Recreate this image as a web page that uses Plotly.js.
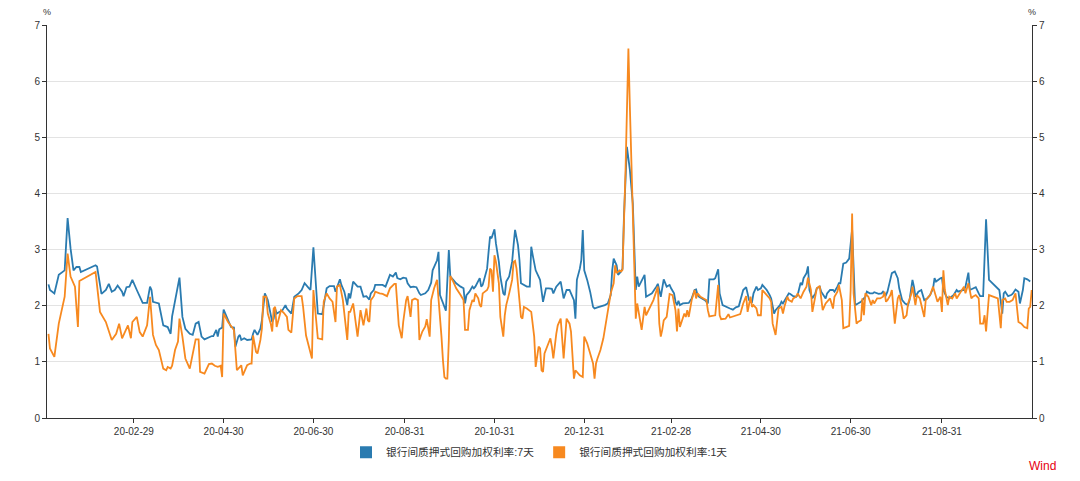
<!DOCTYPE html>
<html><head><meta charset="utf-8">
<script src="https://cdn.plot.ly/plotly-3.0.1.min.js"></script>
<style>html,body{margin:0;padding:0;background:#fff}#chart{width:1080px;height:481px}</style>
</head><body><div id="chart"></div>
<script>
const seriesNames = ['银行间质押式回购加权利率:7天', '银行间质押式回购加权利率:1天'];
const seriesColors = ['#2a7bb0', '#f7891f'];

const dates7d = [
'2020-01-02','2020-01-03','2020-01-06','2020-01-09','2020-01-13','2020-01-15','2020-01-17','2020-01-19','2020-01-21','2020-01-23','2020-01-24',
'2020-02-03','2020-02-04','2020-02-06','2020-02-07','2020-02-10','2020-02-12','2020-02-14','2020-02-16','2020-02-18','2020-02-21','2020-02-22','2020-02-24','2020-02-26','2020-02-28',
'2020-03-02','2020-03-06','2020-03-09','2020-03-11','2020-03-12','2020-03-13','2020-03-17','2020-03-20','2020-03-23','2020-03-25','2020-03-26','2020-03-28','2020-03-31',
'2020-04-02','2020-04-04','2020-04-07','2020-04-09','2020-04-11','2020-04-13','2020-04-15','2020-04-17','2020-04-22','2020-04-23','2020-04-25','2020-04-26','2020-04-27','2020-04-29','2020-04-30',
'2020-05-05','2020-05-07','2020-05-08','2020-05-10','2020-05-11','2020-05-12','2020-05-14','2020-05-16','2020-05-18','2020-05-19','2020-05-20','2020-05-21','2020-05-23','2020-05-25','2020-05-26','2020-05-28','2020-05-30','2020-05-31',
'2020-06-02','2020-06-03','2020-06-04','2020-06-05','2020-06-07','2020-06-09','2020-06-11','2020-06-12','2020-06-14','2020-06-15','2020-06-17','2020-06-20','2020-06-22','2020-06-24','2020-06-27','2020-06-28','2020-06-30',
'2020-07-03','2020-07-06','2020-07-08','2020-07-09','2020-07-11','2020-07-14','2020-07-15','2020-07-18','2020-07-19','2020-07-21','2020-07-23','2020-07-24','2020-07-25','2020-07-27','2020-07-29','2020-07-30',
'2020-08-01','2020-08-02','2020-08-03','2020-08-05','2020-08-07','2020-08-08','2020-08-10','2020-08-11','2020-08-14','2020-08-16','2020-08-18','2020-08-21','2020-08-23','2020-08-25','2020-08-26','2020-08-28','2020-08-30',
'2020-09-01','2020-09-02','2020-09-04','2020-09-06','2020-09-08','2020-09-10','2020-09-11','2020-09-14','2020-09-16','2020-09-18','2020-09-19','2020-09-22','2020-09-23','2020-09-24','2020-09-27','2020-09-28','2020-09-30',
'2020-10-01','2020-10-03','2020-10-05','2020-10-08','2020-10-10','2020-10-11','2020-10-12','2020-10-14','2020-10-16','2020-10-17','2020-10-18','2020-10-21','2020-10-22','2020-10-23','2020-10-26','2020-10-27','2020-10-28','2020-10-29','2020-10-31',
'2020-11-01','2020-11-03','2020-11-04','2020-11-06','2020-11-07','2020-11-08','2020-11-10','2020-11-12','2020-11-13','2020-11-14','2020-11-16','2020-11-17','2020-11-18','2020-11-20','2020-11-22','2020-11-24','2020-11-25','2020-11-26','2020-11-28','2020-11-30',
'2020-12-01','2020-12-03','2020-12-05','2020-12-07','2020-12-09','2020-12-10','2020-12-12','2020-12-15','2020-12-17','2020-12-19','2020-12-21','2020-12-22','2020-12-24','2020-12-25','2020-12-26','2020-12-28','2020-12-29','2020-12-30','2020-12-31',
'2021-01-02','2021-01-04','2021-01-06','2021-01-07','2021-01-09','2021-01-12','2021-01-14','2021-01-16','2021-01-18','2021-01-19','2021-01-20','2021-01-22','2021-01-23','2021-01-25','2021-01-26','2021-01-27','2021-01-29','2021-01-31',
'2021-02-02','2021-02-04','2021-02-05','2021-02-06','2021-02-08','2021-02-10','2021-02-11','2021-02-15','2021-02-18','2021-02-19','2021-02-21','2021-02-23','2021-02-25','2021-02-27','2021-02-28',
'2021-03-02','2021-03-03','2021-03-04','2021-03-05','2021-03-06','2021-03-08','2021-03-12','2021-03-14','2021-03-16','2021-03-17','2021-03-18','2021-03-19','2021-03-21','2021-03-23','2021-03-25','2021-03-26','2021-03-29','2021-03-30',
'2021-04-01','2021-04-02','2021-04-04','2021-04-06','2021-04-09','2021-04-11','2021-04-13','2021-04-15','2021-04-17','2021-04-18','2021-04-20','2021-04-21','2021-04-22','2021-04-24','2021-04-25','2021-04-27','2021-04-28','2021-04-30',
'2021-05-01','2021-05-02','2021-05-04','2021-05-06','2021-05-07','2021-05-09','2021-05-10','2021-05-13','2021-05-14','2021-05-15','2021-05-17','2021-05-19','2021-05-20','2021-05-22','2021-05-24','2021-05-25','2021-05-27','2021-05-28','2021-05-29','2021-05-31',
'2021-06-01','2021-06-02','2021-06-04','2021-06-06','2021-06-07','2021-06-09','2021-06-10','2021-06-13','2021-06-14','2021-06-16','2021-06-18','2021-06-19','2021-06-21','2021-06-22','2021-06-23','2021-06-25','2021-06-27','2021-06-28','2021-06-29',
'2021-07-01','2021-07-02','2021-07-03','2021-07-05','2021-07-07','2021-07-09','2021-07-10','2021-07-11','2021-07-13','2021-07-15','2021-07-16','2021-07-19','2021-07-21','2021-07-22','2021-07-24','2021-07-25','2021-07-27','2021-07-28','2021-07-30',
'2021-08-01','2021-08-02','2021-08-04','2021-08-06','2021-08-08','2021-08-09','2021-08-11','2021-08-12','2021-08-13','2021-08-15','2021-08-17','2021-08-19','2021-08-21','2021-08-23','2021-08-25','2021-08-26','2021-08-27','2021-08-30','2021-08-31',
'2021-09-01','2021-09-03','2021-09-05','2021-09-08','2021-09-10','2021-09-11','2021-09-13','2021-09-15','2021-09-16','2021-09-18','2021-09-19','2021-09-21','2021-09-23','2021-09-25','2021-09-26','2021-09-28','2021-09-29','2021-09-30',
'2021-10-02','2021-10-04','2021-10-06','2021-10-09','2021-10-11','2021-10-12','2021-10-13','2021-10-15','2021-10-17','2021-10-18','2021-10-20','2021-10-22','2021-10-23','2021-10-25','2021-10-26','2021-10-28','2021-10-30'
];
const rate7d = [
2.38,2.28,2.22,2.55,2.63,3.56,3.02,2.63,2.69,2.69,2.60,
2.72,2.70,2.31,2.21,2.28,2.39,2.25,2.28,2.36,2.25,2.17,2.33,2.34,2.46,
2.28,2.05,2.05,2.34,2.28,2.07,2.04,1.65,1.62,1.50,1.81,2.10,2.50,
1.80,1.59,1.50,1.48,1.68,1.71,1.45,1.40,1.46,1.46,1.57,1.45,1.58,1.61,1.93,
1.62,1.61,1.27,1.45,1.48,1.39,1.42,1.39,1.40,1.40,1.50,1.57,1.48,1.59,1.74,2.22,2.10,1.95,
1.71,1.77,1.95,1.86,1.89,1.92,2.01,1.95,1.89,1.86,2.16,2.22,2.28,2.40,2.31,2.28,3.04,
1.86,1.85,2.16,2.31,2.35,2.35,2.25,2.47,2.37,2.25,2.01,2.22,2.13,2.43,2.37,2.34,
2.34,2.22,2.16,2.17,2.11,2.22,2.28,2.37,2.37,2.37,2.34,2.55,2.52,2.59,2.49,2.47,2.50,
2.49,2.40,2.33,2.34,2.33,2.22,2.19,2.22,2.28,2.41,2.63,2.81,2.96,2.19,1.95,1.91,2.99,
2.52,2.46,2.40,2.34,2.31,2.04,2.19,2.25,2.34,2.31,2.34,2.49,2.34,2.37,2.66,2.96,3.23,3.20,3.36,
3.11,2.78,2.52,2.22,2.19,2.43,2.52,2.78,3.08,3.35,3.08,2.81,2.40,2.37,2.34,2.34,3.05,2.90,2.63,2.52,
2.46,2.07,2.31,2.31,2.30,2.22,2.34,2.43,2.13,2.28,2.28,2.22,2.10,1.77,2.46,2.66,2.81,3.35,2.63,
2.46,2.25,1.98,1.95,1.97,1.99,2.01,2.04,2.19,2.63,2.84,2.72,2.55,2.61,2.66,3.60,4.83,4.42,
3.82,2.28,2.52,2.34,2.46,2.55,2.16,2.22,2.34,2.39,2.16,2.47,2.34,2.37,2.31,
2.22,2.07,2.01,2.09,2.01,2.04,2.05,2.13,2.28,2.29,2.19,2.16,2.13,2.10,2.04,2.47,2.47,2.49,
2.65,2.22,2.01,1.98,1.95,1.93,1.97,1.99,2.17,2.28,2.33,2.22,2.10,2.07,2.22,2.34,2.28,2.31,
2.37,2.34,2.28,2.19,2.13,1.86,1.92,2.01,2.07,2.04,2.13,2.22,2.21,2.17,2.16,2.19,2.41,2.37,2.49,2.58,
2.70,2.28,2.13,2.22,2.31,2.34,2.25,2.13,2.22,2.28,2.28,2.25,2.34,2.40,2.40,2.75,2.77,2.80,2.84,
3.36,2.69,2.01,2.04,2.07,2.13,2.16,2.25,2.22,2.22,2.24,2.21,2.22,2.25,2.19,2.25,2.46,2.58,2.61,
2.49,2.31,2.10,2.04,2.01,2.10,2.46,2.34,2.16,2.25,2.28,2.10,2.13,2.19,2.31,2.49,2.43,2.49,2.50,
2.28,2.16,2.13,2.19,2.28,2.25,2.27,2.28,2.34,2.59,2.28,2.31,2.33,2.22,2.17,2.17,2.87,3.54,
2.46,2.41,2.37,2.28,1.86,2.22,2.25,2.17,2.19,2.21,2.29,2.25,2.04,2.28,2.49,2.47,2.43
];

const dates1d = [
'2020-01-02','2020-01-03','2020-01-06','2020-01-09','2020-01-13','2020-01-15','2020-01-17','2020-01-20','2020-01-22','2020-01-23',
'2020-02-03','2020-02-06','2020-02-10','2020-02-14','2020-02-17','2020-02-19','2020-02-21','2020-02-25','2020-02-27','2020-02-28',
'2020-03-02','2020-03-04','2020-03-06','2020-03-09','2020-03-11','2020-03-13','2020-03-15','2020-03-17','2020-03-20','2020-03-22','2020-03-23','2020-03-25','2020-03-26','2020-03-28','2020-03-30','2020-03-31',
'2020-04-02','2020-04-04','2020-04-07','2020-04-09','2020-04-11','2020-04-13','2020-04-14','2020-04-17','2020-04-20','2020-04-22','2020-04-24','2020-04-26','2020-04-28','2020-04-29','2020-04-30',
'2020-05-03','2020-05-07','2020-05-08','2020-05-09','2020-05-10','2020-05-12','2020-05-13','2020-05-16','2020-05-18','2020-05-19','2020-05-20','2020-05-22','2020-05-23','2020-05-25','2020-05-26','2020-05-27','2020-05-29','2020-05-30',
'2020-06-01','2020-06-02','2020-06-03','2020-06-04','2020-06-05','2020-06-07','2020-06-08','2020-06-10','2020-06-12','2020-06-13','2020-06-15','2020-06-17','2020-06-19','2020-06-22','2020-06-23','2020-06-25','2020-06-27','2020-06-29','2020-06-30',
'2020-07-01','2020-07-03','2020-07-06','2020-07-07','2020-07-09','2020-07-11','2020-07-13','2020-07-15','2020-07-16','2020-07-18','2020-07-20','2020-07-23','2020-07-24','2020-07-25','2020-07-27','2020-07-29','2020-07-30',
'2020-08-01','2020-08-02','2020-08-03','2020-08-05','2020-08-06','2020-08-07','2020-08-08','2020-08-10','2020-08-11','2020-08-14','2020-08-16','2020-08-19','2020-08-21','2020-08-24','2020-08-25','2020-08-27','2020-08-29','2020-08-30',
'2020-09-01','2020-09-02','2020-09-04','2020-09-05','2020-09-07','2020-09-09','2020-09-10','2020-09-12','2020-09-14','2020-09-15','2020-09-17','2020-09-18','2020-09-20','2020-09-22','2020-09-23','2020-09-24','2020-09-25','2020-09-26','2020-09-27','2020-09-28','2020-09-29','2020-09-30',
'2020-10-01','2020-10-03','2020-10-05','2020-10-08','2020-10-10','2020-10-11','2020-10-13','2020-10-14','2020-10-16','2020-10-17','2020-10-18','2020-10-20','2020-10-21','2020-10-22','2020-10-23','2020-10-26','2020-10-27','2020-10-28','2020-10-29','2020-10-30','2020-10-31',
'2020-11-01','2020-11-03','2020-11-04','2020-11-06','2020-11-07','2020-11-08','2020-11-10','2020-11-12','2020-11-13','2020-11-14','2020-11-15','2020-11-16','2020-11-18','2020-11-19','2020-11-20','2020-11-22','2020-11-25','2020-11-27','2020-11-28','2020-11-30',
'2020-12-01','2020-12-02','2020-12-03','2020-12-04','2020-12-06','2020-12-08','2020-12-09','2020-12-10','2020-12-12','2020-12-13','2020-12-15','2020-12-17','2020-12-19','2020-12-21','2020-12-22','2020-12-24','2020-12-25','2020-12-27','2020-12-28','2020-12-30','2020-12-31',
'2021-01-02','2021-01-04','2021-01-06','2021-01-07','2021-01-08','2021-01-09','2021-01-11','2021-01-13','2021-01-15','2021-01-16','2021-01-18','2021-01-20','2021-01-21','2021-01-22','2021-01-24','2021-01-25','2021-01-26','2021-01-28','2021-01-30','2021-01-31',
'2021-02-02','2021-02-04','2021-02-05','2021-02-06','2021-02-08','2021-02-10','2021-02-11','2021-02-16','2021-02-19','2021-02-20','2021-02-21','2021-02-22','2021-02-23','2021-02-25','2021-02-26','2021-02-27',
'2021-03-01','2021-03-03','2021-03-04','2021-03-05','2021-03-06','2021-03-07','2021-03-09','2021-03-10','2021-03-11','2021-03-12','2021-03-14','2021-03-16','2021-03-17','2021-03-18','2021-03-20','2021-03-22','2021-03-24','2021-03-25','2021-03-26','2021-03-30','2021-03-31',
'2021-04-01','2021-04-02','2021-04-03','2021-04-06','2021-04-07','2021-04-08','2021-04-09','2021-04-12','2021-04-15','2021-04-16','2021-04-18','2021-04-20','2021-04-21','2021-04-23','2021-04-24','2021-04-25','2021-04-27','2021-04-28','2021-04-30',
'2021-05-01','2021-05-03','2021-05-06','2021-05-07','2021-05-08','2021-05-10','2021-05-11','2021-05-12','2021-05-14','2021-05-15','2021-05-16','2021-05-18','2021-05-19','2021-05-21','2021-05-22','2021-05-24','2021-05-25','2021-05-27','2021-05-29','2021-05-31',
'2021-06-01','2021-06-03','2021-06-04','2021-06-06','2021-06-07','2021-06-09','2021-06-10','2021-06-11','2021-06-13','2021-06-15','2021-06-16','2021-06-18','2021-06-19','2021-06-21','2021-06-22','2021-06-24','2021-06-25','2021-06-27','2021-06-29','2021-06-30',
'2021-07-01','2021-07-02','2021-07-04','2021-07-05','2021-07-07','2021-07-08','2021-07-09','2021-07-10','2021-07-12','2021-07-14','2021-07-15','2021-07-16','2021-07-18','2021-07-20','2021-07-22','2021-07-23','2021-07-24','2021-07-25','2021-07-27','2021-07-28','2021-07-30',
'2021-08-01','2021-08-02','2021-08-04','2021-08-05','2021-08-07','2021-08-08','2021-08-10','2021-08-11','2021-08-13','2021-08-14','2021-08-16','2021-08-17','2021-08-19','2021-08-20','2021-08-22','2021-08-23','2021-08-25','2021-08-26','2021-08-28','2021-08-30','2021-08-31',
'2021-09-01','2021-09-02','2021-09-04','2021-09-05','2021-09-07','2021-09-09','2021-09-10','2021-09-12','2021-09-13','2021-09-15','2021-09-16','2021-09-18','2021-09-20','2021-09-21','2021-09-23','2021-09-25','2021-09-26','2021-09-28','2021-09-29','2021-09-30',
'2021-10-02','2021-10-05','2021-10-08','2021-10-10','2021-10-11','2021-10-13','2021-10-14','2021-10-16','2021-10-18','2021-10-20','2021-10-22','2021-10-24','2021-10-26','2021-10-28','2021-10-29','2021-10-30','2021-10-31'
];
const rate1d = [
1.50,1.24,1.09,1.68,2.16,2.93,2.52,2.34,1.62,2.44,
2.60,1.89,1.71,1.39,1.50,1.68,1.42,1.65,1.42,1.71,
1.80,1.53,1.45,1.65,2.16,1.48,1.30,1.21,0.88,0.85,0.91,0.88,0.93,1.21,1.36,1.77,
1.45,1.06,0.88,1.15,1.40,1.40,0.82,0.79,0.96,0.97,0.93,0.91,0.93,0.73,1.86,
1.71,1.57,1.21,0.85,0.88,0.94,0.76,0.94,0.97,0.97,1.47,1.18,1.15,1.39,1.59,2.16,2.16,1.86,
1.68,1.54,1.95,1.98,1.62,1.83,1.92,1.87,1.80,1.57,1.52,2.13,2.17,2.17,1.98,1.47,1.27,1.06,2.28,
2.01,1.42,1.40,2.07,2.22,2.13,2.07,1.71,2.34,2.37,2.10,1.39,1.89,1.89,2.04,1.57,1.45,
1.92,1.80,1.65,1.95,1.74,1.71,2.10,2.17,2.25,2.22,2.21,2.17,2.31,2.39,2.39,1.65,1.42,1.71,
2.10,2.17,1.80,2.10,2.13,2.10,1.39,1.54,1.63,1.76,1.45,2.10,2.31,2.46,2.13,1.89,1.45,1.03,0.73,0.70,0.70,1.39,
2.53,2.43,2.31,2.19,2.10,1.57,1.57,1.92,2.10,2.07,2.22,2.13,2.01,1.98,2.22,2.28,2.34,2.66,2.63,2.25,2.90,
2.78,2.40,1.80,1.45,1.83,2.01,2.22,2.46,2.78,2.80,2.66,2.34,1.80,1.77,1.98,1.95,1.89,1.45,0.91,1.27,
1.24,0.85,0.82,1.15,1.30,1.42,1.27,1.06,1.50,1.65,1.77,1.06,1.77,1.68,1.54,0.70,0.85,0.80,0.76,0.73,1.45,
1.33,1.15,0.97,0.70,0.97,1.06,1.21,1.42,1.77,1.95,2.22,2.40,2.72,2.58,2.63,2.61,2.64,4.36,6.58,5.54,
3.76,1.77,2.04,1.86,1.57,1.98,1.83,2.10,2.34,1.68,1.45,1.57,1.74,1.80,2.04,2.21,
2.19,1.92,1.54,1.95,1.62,1.71,1.86,1.80,1.92,1.80,2.10,2.28,2.13,2.22,2.16,2.13,2.10,1.92,1.81,1.83,2.10,
2.37,1.83,1.76,1.77,1.81,1.85,1.79,1.81,1.83,1.85,2.04,2.17,1.89,2.16,1.98,2.01,1.95,1.83,1.83,
2.28,2.22,2.13,2.07,1.68,1.48,1.77,1.95,1.98,1.86,1.98,2.16,2.10,2.07,2.13,2.16,2.22,2.13,2.25,2.34,
2.50,2.28,1.89,2.22,2.31,2.35,2.16,1.92,2.04,2.10,2.13,1.95,2.16,2.25,2.37,2.10,1.60,1.62,1.64,2.28,
3.64,2.22,1.68,1.71,1.74,2.13,1.83,2.22,2.16,2.01,2.10,2.04,2.13,2.13,2.16,2.25,2.07,2.10,2.19,2.28,1.68,
2.13,2.19,1.95,1.77,1.83,2.04,2.19,2.34,2.01,2.19,2.13,2.01,1.80,2.10,2.16,2.19,2.34,2.25,2.07,2.16,1.89,
2.63,2.28,2.01,2.16,2.13,2.22,2.13,2.22,2.25,2.34,2.22,2.40,2.13,2.16,2.19,2.13,1.68,1.68,1.83,1.54,
2.19,2.16,2.13,1.60,2.10,2.13,2.07,2.07,2.10,2.22,1.71,1.68,1.62,1.60,1.95,1.98,2.28
];

const tickDates = ['2020-02-29','2020-04-30','2020-06-30','2020-08-31','2020-10-31','2020-12-31','2021-02-28','2021-04-30','2021-06-30','2021-08-31'];
const tickLabels = ['20-02-29','20-04-30','20-06-30','20-08-31','20-10-31','20-12-31','21-02-28','21-04-30','21-06-30','21-08-31'];
const yTickVals = [0,1,2,3,4,5,6,7];
const xRange = ['2020-01-01', '2021-10-31 05:00'];
const yRange = [0, 7];

const fontFam = '"Liberation Sans", Arial, "Noto Sans CJK SC", sans-serif';
const allDates = [dates7d, dates1d];
const allRates = [rate7d, rate1d];
const axisRefs = ['y', 'y2'];

const traces = [];
for (let i = 0; i < 2; i++) {
  traces.push({
    type: 'scatter', mode: 'lines', x: allDates[i], y: allRates[i], yaxis: axisRefs[i],
    name: seriesNames[i], legendgroup: 'g' + i, showlegend: false,
    line: {color: seriesColors[i], width: 1.8}, hoverinfo: 'x+y'
  });
}
for (let i = 0; i < 2; i++) {
  traces.push({
    type: 'bar', x: [null], y: [null], name: seriesNames[i], legendgroup: 'g' + i,
    showlegend: true, marker: {color: seriesColors[i]}, hoverinfo: 'skip'
  });
}

const yAxisBase = {
  range: yRange, tickvals: yTickVals, ticks: 'outside', ticklen: 4, tickcolor: '#333',
  showline: true, linecolor: '#333', linewidth: 1, zeroline: false,
  tickfont: {size: 10, color: '#333', family: fontFam}, fixedrange: true
};

const layout = {
  width: 1080, height: 481,
  margin: {l: 47, r: 48, t: 25, b: 63, pad: 0},
  paper_bgcolor: '#fff', plot_bgcolor: '#fff',
  font: {family: fontFam, size: 10, color: '#333'},
  showlegend: true,
  legend: {orientation: 'h', x: 0.5, xanchor: 'center', y: -0.05, yanchor: 'top',
           font: {size: 10.7, color: '#333', family: fontFam}, itemclick: false, itemdoubleclick: false},
  xaxis: {type: 'date', range: xRange, tickvals: tickDates, ticktext: tickLabels,
          ticks: 'outside', ticklen: 4, tickcolor: '#333', showgrid: false,
          showline: true, linecolor: '#333', linewidth: 1, zeroline: false,
          tickfont: {size: 10, color: '#333', family: fontFam}, fixedrange: true},
  yaxis: Object.assign({}, yAxisBase, {side: 'left', showgrid: true, gridcolor: '#e3e3e3', gridwidth: 1}),
  yaxis2: Object.assign({}, yAxisBase, {side: 'right', overlaying: 'y', showgrid: false}),
  annotations: [
    {text: '%', xref: 'paper', yref: 'paper', x: 0, y: 1.033, xanchor: 'center', yanchor: 'middle', showarrow: false, font: {size: 9, color: '#333'}},
    {text: '%', xref: 'paper', yref: 'paper', x: 1, y: 1.033, xanchor: 'center', yanchor: 'middle', showarrow: false, font: {size: 9, color: '#333'}},
    {text: 'Wind', xref: 'paper', yref: 'paper', x: 1.011, y: -0.122, xanchor: 'center', yanchor: 'middle', showarrow: false, font: {size: 12, color: '#e60012'}}
  ]
};

Plotly.newPlot('chart', traces, layout, {displayModeBar: false, staticPlot: false});
</script>
</body></html>
